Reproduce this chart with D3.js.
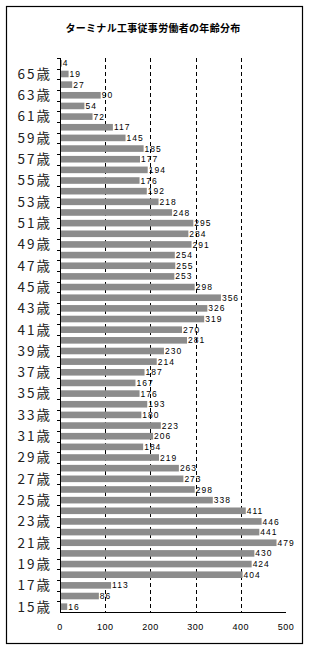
<!DOCTYPE html>
<html>
<head>
<meta charset="utf-8">
<script src="https://cdn.jsdelivr.net/npm/d3@7"></script>
<style>
  body { margin: 0; background: #fff; }
  text { font-family: "Noto Sans CJK JP", "DejaVu Sans", sans-serif; }
  .num { font-family: "Liberation Sans", Arial, sans-serif; }
</style>
</head>
<body>
<svg id="chart" width="310" height="650"></svg>
<script>
// ages from 66 (top) down to 15 (bottom)
const ages = d3.range(66, 14, -1);
const counts = [4, 19, 27, 90, 54, 72, 117, 145, 185, 177, 194, 176, 192, 218, 248,
  295, 284, 291, 254, 255, 253, 298, 356, 326, 319, 270, 281, 230, 214, 187, 167,
  176, 193, 180, 223, 206, 184, 219, 263, 273, 298, 338, 411, 446, 441, 479, 430,
  424, 404, 113, 86, 16];
const xTicks = [0, 100, 200, 300, 400, 500];
const title = "ターミナル工事従事労働者の年齢分布";

const data = ages.map((a, i) => ({ age: a, n: counts[i] }));

const svg = d3.select("#chart");
const m = { left: 60, right: 286, top: 58, bottom: 612 };

// frame
svg.append("rect")
  .attr("x", 6.5).attr("y", 6.5)
  .attr("width", 296).attr("height", 637)
  .attr("fill", "none").attr("stroke", "#000").attr("stroke-width", 1.2);

svg.append("text")
  .attr("x", 153).attr("y", 32)
  .attr("text-anchor", "middle")
  .attr("font-size", 10).attr("font-weight", "bold")
  .attr("letter-spacing", 0.3)
  .text(title);

const x = d3.scaleLinear().domain([0, 500]).range([m.left, m.right]);
const y = d3.scaleBand().domain(ages).range([m.top, m.bottom]).paddingInner(0.38).paddingOuter(0.19);

// dashed grid
svg.append("g").selectAll("line")
  .data(xTicks.filter(t => t > 0 && t < 500))
  .join("line")
    .attr("x1", d => Math.round(x(d)) + 0.5).attr("x2", d => Math.round(x(d)) + 0.5)
    .attr("y1", m.top).attr("y2", m.bottom)
    .attr("stroke", "#000").attr("stroke-dasharray", "4,3");

// bars
svg.append("g").selectAll("rect")
  .data(data)
  .join("rect")
    .attr("x", x(0))
    .attr("y", d => y(d.age))
    .attr("width", d => x(d.n) - x(0))
    .attr("height", y.bandwidth())
    .attr("fill", "#8c8c8c");

// value labels
svg.append("g").selectAll("text")
  .data(data)
  .join("text")
    .attr("class", "num")
    .attr("x", d => x(d.n) + 1)
    .attr("y", d => y(d.age) + y.bandwidth() / 2)
    .attr("dy", "0.36em")
    .attr("font-size", 8.5)
    .attr("letter-spacing", 1)
    .text(d => d.n);

// y axis: ticks between categories, labels on odd ages
const yAxis = svg.append("g");
yAxis.append("line")
  .attr("x1", m.left + 0.5).attr("x2", m.left + 0.5)
  .attr("y1", m.top).attr("y2", m.bottom)
  .attr("stroke", "#000");
yAxis.selectAll(".tk")
  .data(ages)
  .join("line")
    .attr("class", "tk")
    .attr("x1", m.left - 3).attr("x2", m.left)
    .attr("y1", d => Math.round(y(d) - y.step() * y.paddingInner() / 2) + 0.5)
    .attr("y2", d => Math.round(y(d) - y.step() * y.paddingInner() / 2) + 0.5)
    .attr("stroke", "#000");
yAxis.selectAll("text")
  .data(ages.filter(a => a % 2 === 1))
  .join("text")
    .attr("x", m.left - 8)
    .attr("y", d => y(d) + y.bandwidth() / 2)
    .attr("dy", "0.36em")
    .attr("text-anchor", "end")
    .attr("font-size", 13.5)
    .attr("letter-spacing", 2)
    .attr("fill", "#222")
    .text(d => d + "歳");

// x axis
const xAxis = svg.append("g");
xAxis.append("line")
  .attr("x1", m.left).attr("x2", m.right)
  .attr("y1", m.bottom + 0.5).attr("y2", m.bottom + 0.5)
  .attr("stroke", "#000");
xAxis.selectAll("text")
  .data(xTicks)
  .join("text")
    .attr("class", "num")
    .attr("x", d => x(d))
    .attr("y", 630)
    .attr("text-anchor", "middle")
    .attr("font-size", 9)
    .attr("letter-spacing", 0.5)
    .text(d => d);
</script>
</body>
</html>
